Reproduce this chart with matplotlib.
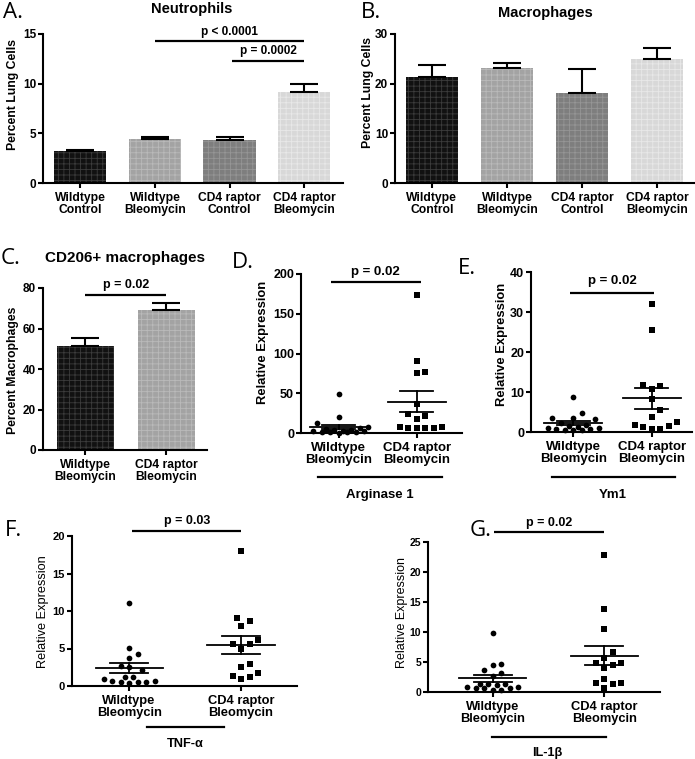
import numpy as np
import matplotlib
matplotlib.use("Agg")
import matplotlib.pyplot as plt
from matplotlib.lines import Line2D

plt.rcParams["font.family"] = ["Liberation Sans", "DejaVu Sans"]
plt.rcParams["hatch.linewidth"] = 0.6

# ---- data ----
groups4 = ["Wildtype\nControl", "Wildtype\nBleomycin", "CD4 raptor\nControl", "CD4 raptor\nBleomycin"]
groups2 = ["Wildtype\nBleomycin", "CD4 raptor\nBleomycin"]

neut_mean = [3.2, 4.45, 4.35, 9.2]
neut_sem = [0.15, 0.2, 0.3, 0.75]
mac_mean = [21.3, 23.1, 18.1, 24.9]
mac_sem = [2.4, 1.0, 4.9, 2.2]
cd206_mean = [51.3, 69.0]
cd206_sem = [4.2, 3.6]

arg1_wt = [49, 19.5, 12.5, 7, 6, 5, 4, 3.5, 3, 2.5, 2, 1.5, 1.2, 1, 0.8, 0.6]
arg1_cd4 = [174, 90, 77, 75, 36, 24, 22, 17, 8, 7, 6, 6, 6, 6]
ym1_wt = [8.7, 4.8, 3.6, 3.5, 3.3, 2.2, 1.8, 1.5, 1.2, 1.0, 0.8, 0.6, 0.5, 0.6, 0.8, 1.0]
ym1_cd4 = [32, 25.6, 11.7, 11.4, 10.8, 8.25, 5.4, 3.7, 2.5, 1.7, 1.4, 1.25, 0.8, 0.8]
tnf_wt = [11.1, 5.1, 4.3, 3.8, 2.7, 2.5, 2.1, 1.2, 0.9, 0.6, 0.5, 0.4, 0.5, 0.7, 0.7, 1.2]
tnf_cd4 = [18.0, 9.1, 8.7, 8.0, 6.1, 5.6, 5.6, 5.0, 2.9, 2.6, 1.7, 1.3, 1.2, 0.9]
il1b_wt = [9.9, 4.7, 4.5, 3.7, 3.1, 2.6, 1.4, 1.3, 0.9, 0.7, 0.4, 0.4, 0.6, 0.7, 0.9, 1.1, 1.4]
il1b_cd4 = [22.9, 13.8, 10.5, 6.7, 5.6, 4.8, 4.8, 4.5, 4.0, 2.2, 1.5, 1.5, 1.3, 0.7]

bar_fill = ["#111111", "#a3a3a3", "#7e7e7e", "#d8d8d8"]
bar_grid = ["#3c3c3c", "#bababa", "#969696", "#e8e8e8"]

W, H = 695, 759
fig = plt.figure(figsize=(W / 100, H / 100), dpi=100)


def box(l, t, r, b):
    return [l / W, 1 - b / H, (r - l) / W, (b - t) / H]


def ftext(x, y, s, **kw):
    kw.setdefault("ha", "center")
    kw.setdefault("va", "center")
    fig.text(x / W, 1 - y / H, s, **kw)


def fline(x0, x1, y):
    fig.add_artist(Line2D([x0 / W, x1 / W], [1 - y / H, 1 - y / H], color="black", lw=1.6))


def style(ax, ylim, yticks, labels, xlim, fs_y=8.5, fs_x=8.7):
    ax.spines[["top", "right"]].set_visible(False)
    for s in ("left", "bottom"):
        ax.spines[s].set_linewidth(1.5)
    ax.set_ylim(*ylim)
    ax.set_yticks(yticks)
    ax.set_xlim(*xlim)
    ax.set_xticks(range(len(labels)))
    ax.set_xticklabels(labels, fontsize=fs_x, fontweight="bold", linespacing=1.0)
    for t in ax.get_yticklabels():
        t.set_fontsize(fs_y)
        t.set_fontweight("bold")
    ax.tick_params(width=1.5, length=3.5, pad=1.5)
    ax.tick_params(axis="x", pad=3)


def pbar(ax, x0, x1, y, ytxt, s, fs=8.5):
    ax.plot([x0, x1], [y, y], color="black", lw=1.6, clip_on=False, solid_capstyle="butt")
    ax.text((x0 + x1) / 2, ytxt, s, ha="center", va="center", fontsize=fs,
            fontweight="bold", clip_on=False)


def bars(ax, means, sems):
    x = np.arange(len(means))
    for i, m in enumerate(means):
        ax.bar(x[i], m, width=0.7, color=bar_fill[i], edgecolor=bar_grid[i], linewidth=0,
               hatch="+++", zorder=2)
    ax.errorbar(x, means, yerr=[np.zeros(len(means)), sems], fmt="none", ecolor="black",
                elinewidth=1.5, capsize=10, capthick=1.5, zorder=3)


def swarm(ax, x0, values, gap, max_off=32):
    pts = ax.transData.transform([(x0, v) for v in values])
    ys = pts[:, 1]
    cands = [0.0]
    j = 1
    while j * gap / 2 <= max_off:
        cands += [j * gap / 2, -j * gap / 2]
        j += 1
    placed, offs = [], np.zeros(len(values))
    for i in np.argsort(ys):
        best, best_d = cands[0], -1.0
        for c in cands:
            d = min([np.hypot(c - px, ys[i] - py) for px, py in placed] or [1e9])
            if d >= gap:
                best = c
                break
            if d > best_d:
                best, best_d = c, d
        placed.append((best, ys[i]))
        offs[i] = best
    ppu = ax.transData.transform((1, 0))[0] - ax.transData.transform((0, 0))[0]
    return x0 + offs / ppu


def dots(ax, wt, cd4, half_mean, half_sem, gap=8.5):
    for x0, vals, mk, s in ((0, wt, "o", 17), (1, cd4, "s", 18)):
        vals = np.asarray(vals, dtype=float)
        xs = swarm(ax, x0, vals, gap)
        ax.scatter(xs, vals, marker=mk, s=s, color="black", linewidths=0, zorder=3, clip_on=False)
        m = vals.mean()
        se = vals.std(ddof=1) / np.sqrt(len(vals))
        ax.plot([x0 - half_mean, x0 + half_mean], [m, m], color="black", lw=1.3, zorder=4)
        ax.plot([x0, x0], [m - se, m + se], color="black", lw=1.3, zorder=4)
        for yy in (m - se, m + se):
            ax.plot([x0 - half_sem, x0 + half_sem], [yy, yy], color="black", lw=1.3, zorder=4)


# ---- A. Neutrophils ----
axA = fig.add_axes(box(43, 34, 343, 183))
bars(axA, neut_mean, neut_sem)
style(axA, (0, 15), [0, 5, 10, 15], groups4, (-0.5, 3.52))
pbar(axA, 1, 3, 14.3, 15.25, "p < 0.0001")
pbar(axA, 2.03, 3, 12.3, 13.25, "p = 0.0002")
ftext(192, 9, "Neutrophils", fontsize=10.5, fontweight="bold")
ftext(13, 95, "Percent Lung Cells", rotation=90, fontsize=8.8, fontweight="bold")
ftext(3, 13, "A.", ha="left", fontsize=16, family="Open Sans")

# ---- B. Macrophages ----
axB = fig.add_axes(box(395, 34, 694, 183))
bars(axB, mac_mean, mac_sem)
style(axB, (0, 30), [0, 10, 20, 30], groups4, (-0.49, 3.49))
ftext(545, 13, "Macrophages", fontsize=10.5, fontweight="bold")
ftext(368, 93, "Percent Lung Cells", rotation=90, fontsize=8.8, fontweight="bold")
ftext(361, 12, "B.", ha="left", fontsize=16, family="Open Sans")

# ---- C. CD206+ macrophages ----
axC = fig.add_axes(box(43, 288, 207, 450))
bars(axC, cd206_mean, cd206_sem)
style(axC, (0, 80), [0, 20, 40, 60, 80], groups2, (-0.52, 1.5))
pbar(axC, 0, 1, 76.6, 81.5, "p = 0.02", fs=9)
ftext(125, 258, "CD206+ macrophages", fontsize=11, fontweight="bold")
ftext(13, 370, "Percent Macrophages", rotation=90, fontsize=8.8, fontweight="bold")
ftext(1, 258, "C.", ha="left", fontsize=16, family="Open Sans")

# ---- D. Arginase 1 ----
axD = fig.add_axes(box(301, 274, 462, 433))
style(axD, (0, 200), [0, 50, 100, 150, 200], groups2, (-0.48, 1.58), fs_y=9, fs_x=9.5)
dots(axD, arg1_wt, arg1_cd4, 0.37, 0.21)
pbar(axD, -0.1, 1.05, 190, 203, "p = 0.02", fs=9.5)
ftext(263, 342, "Relative Expression", rotation=90, fontsize=9.4, fontweight="bold")
ftext(232, 263, "D.", ha="left", fontsize=16, family="Open Sans")
fline(318, 442, 477)
ftext(380, 495, "Arginase 1", fontsize=9.5, fontweight="bold")

# ---- E. Ym1 ----
axE = fig.add_axes(box(531, 272, 692, 432))
style(axE, (0, 40), [0, 10, 20, 30, 40], groups2, (-0.54, 1.51), fs_y=9, fs_x=9.5)
dots(axE, ym1_wt, ym1_cd4, 0.37, 0.21)
pbar(axE, -0.04, 1.02, 34.75, 37.7, "p = 0.02", fs=9.5)
ftext(502, 344, "Relative Expression", rotation=90, fontsize=9.4, fontweight="bold")
ftext(458, 268, "E.", ha="left", fontsize=16, family="Open Sans")
fline(552, 675, 477)
ftext(613, 495, "Ym1", fontsize=9.5, fontweight="bold")

# ---- F. TNF-alpha ----
axF = fig.add_axes(box(72, 536, 297, 686))
style(axF, (0, 20), [0, 5, 10, 15, 20], groups2, (-0.51, 1.5), fs_y=8, fs_x=9.3)
dots(axF, tnf_wt, tnf_cd4, 0.3, 0.17)
pbar(axF, 0.03, 1.0, 20.7, 22.0, "p = 0.03", fs=9)
ftext(43, 612, "Relative Expression", rotation=90, fontsize=9.2)
ftext(5, 531, "F.", ha="left", fontsize=16, family="Open Sans")
fline(147, 224, 727)
ftext(185, 744, "TNF-α", fontsize=9.2, fontweight="bold")

# ---- G. IL-1beta ----
axG = fig.add_axes(box(428, 542, 660, 692))
style(axG, (0, 25), [0, 5, 10, 15, 20, 25], groups2, (-0.58, 1.5), fs_y=7.5, fs_x=9.3)
dots(axG, il1b_wt, il1b_cd4, 0.3, 0.17)
pbar(axG, 0.01, 1.0, 26.75, 28.2, "p = 0.02", fs=9)
ftext(402, 612, "Relative Expression", rotation=90, fontsize=9.0)
ftext(470, 531, "G.", ha="left", fontsize=16, family="Open Sans")
fline(492, 606, 737)
ftext(547, 753, "IL-1β", fontsize=9.2, fontweight="bold")

fig.savefig("out.png", dpi=100)
